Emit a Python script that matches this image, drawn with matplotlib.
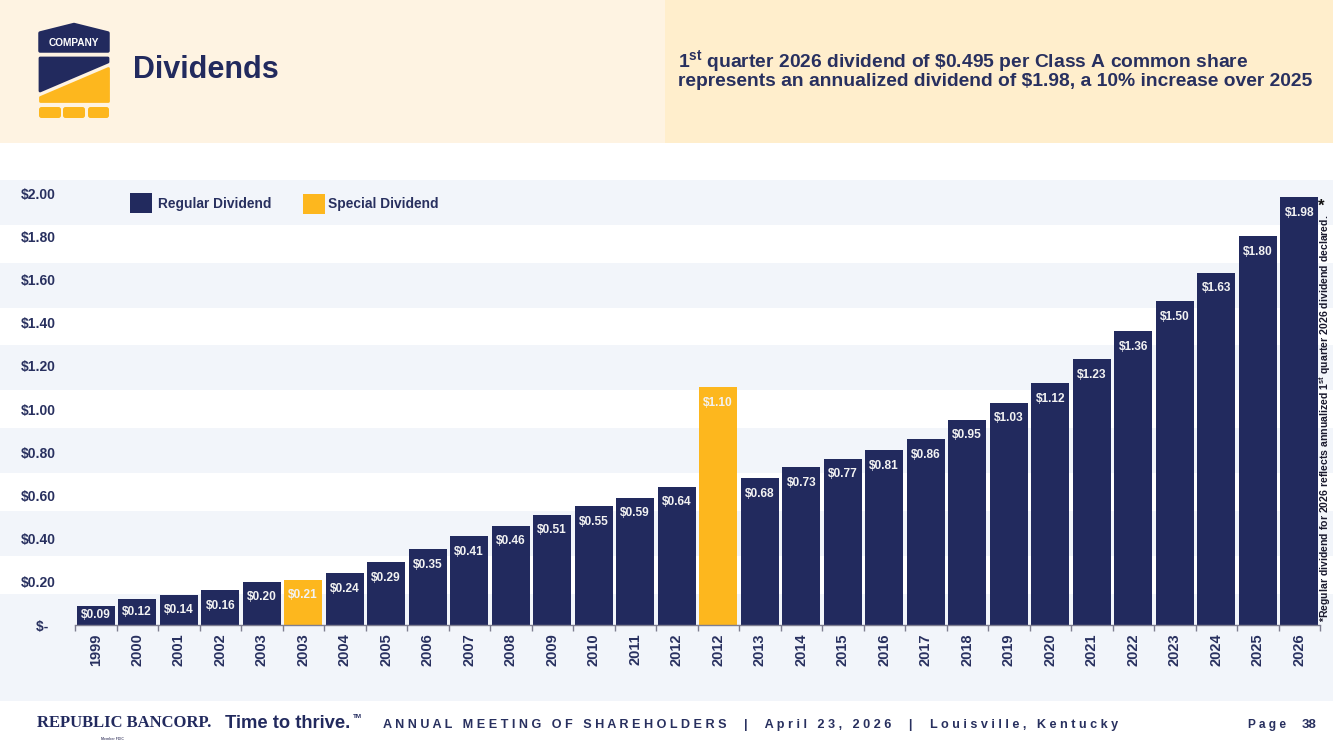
import matplotlib
matplotlib.use('Agg')
import matplotlib.pyplot as plt
from matplotlib.patches import Rectangle, Polygon, FancyBboxPatch
import numpy as np

# ---------------- data ----------------
years = ['1999', '2000', '2001', '2002', '2003', '2003', '2004', '2005', '2006', '2007',
         '2008', '2009', '2010', '2011', '2012', '2012', '2013', '2014', '2015', '2016',
         '2017', '2018', '2019', '2020', '2021', '2022', '2023', '2024', '2025', '2026']
dividends = [0.09, 0.12, 0.14, 0.16, 0.20, 0.21, 0.24, 0.29, 0.35, 0.41,
             0.46, 0.51, 0.55, 0.59, 0.64, 1.10, 0.68, 0.73, 0.77, 0.81,
             0.86, 0.95, 1.03, 1.12, 1.23, 1.36, 1.50, 1.63, 1.80, 1.98]
is_special = [False, False, False, False, False, True, False, False, False, False,
              False, False, False, False, False, True, False, False, False, False,
              False, False, False, False, False, False, False, False, False, False]
ytick_values = [0.0, 0.2, 0.4, 0.6, 0.8, 1.0, 1.2, 1.4, 1.6, 1.8, 2.0]
ytick_labels = ['$-  ', '$0.20', '$0.40', '$0.60', '$0.80', '$1.00', '$1.20',
                '$1.40', '$1.60', '$1.80', '$2.00']
legend_labels = ['Regular Dividend', 'Special Dividend']

NAVY = '#222A5E'
GOLD = '#FDB71E'
TEXT = '#28305F'
BAND = '#F2F5FA'

plt.rcParams['font.family'] = ['Liberation Sans', 'DejaVu Sans']
plt.rcParams['font.weight'] = 'bold'
plt.rcParams['mathtext.fontset'] = 'custom'
plt.rcParams['mathtext.rm'] = 'Liberation Sans:bold'
plt.rcParams['mathtext.default'] = 'regular'

W, H = 1333, 749
fig = plt.figure(figsize=(W / 100, H / 100), dpi=100)
fig.patch.set_facecolor('white')

# ---------------- background (pixel coords) ----------------
bg = fig.add_axes([0, 0, 1, 1], zorder=0)
bg.set_xlim(0, W)
bg.set_ylim(H, 0)
bg.axis('off')

bg.add_patch(Rectangle((0, 0), 665, 143, color='#FEF3E2', lw=0))
bg.add_patch(Rectangle((665, 0), W - 665, 143, color='#FFEECC', lw=0))
for top in [180, 263, 345, 428, 511]:
    bg.add_patch(Rectangle((0, top), W, 45, color=BAND, lw=0))
bg.add_patch(Rectangle((0, 594), W, 107, color=BAND, lw=0))

# logo
bg.add_patch(Polygon([(40, 51), (40, 33), (74, 24.5), (108, 33), (108, 51)],
                     closed=True, fc=NAVY, ec=NAVY, lw=2.5, joinstyle='round'))
bg.text(74, 43.5, 'COMPANY', color='white', fontsize=7.3, ha='center', va='center')
bg.add_patch(Polygon([(40, 58), (108, 58), (108, 62), (40, 91)],
                     closed=True, fc=NAVY, ec=NAVY, lw=2, joinstyle='round'))
bg.add_patch(Polygon([(108, 68), (108, 101), (40, 101), (40, 97)],
                     closed=True, fc=GOLD, ec=GOLD, lw=2, joinstyle='round'))
for x0, x1 in [(39, 61), (63, 85), (88, 109)]:
    bg.add_patch(FancyBboxPatch((x0, 107), x1 - x0, 11,
                                boxstyle='round,pad=0,rounding_size=2.5', fc=GOLD, ec='none'))

bg.text(133, 70, 'Dividends', color=NAVY, fontsize=22, ha='left', va='center')

bg.text(678, 61, r'1$^{\mathregular{st}}$ quarter 2026 dividend of \$0.495 per Class A common share',
        color=TEXT, fontsize=13.9, ha='left', va='center')
bg.text(678, 82, 'represents an annualized dividend of $1.98, a 10% increase over 2025',
        color=TEXT, fontsize=13.9, ha='left', va='center')

# legend
bg.add_patch(Rectangle((130, 193), 22, 20, color=NAVY, lw=0))
bg.text(158, 204, legend_labels[0], color=TEXT, fontsize=9.9, ha='left', va='center')
bg.add_patch(Rectangle((303, 194), 22, 20, color=GOLD, lw=0))
bg.text(328, 204, legend_labels[1], color=TEXT, fontsize=9.9, ha='left', va='center')

# side note
bg.text(1325, 418,
        r'*Regular dividend for 2026 reflects annualized 1$^{\mathregular{st}}$ quarter 2026 dividend declared.',
        color='#1A1A2E', fontsize=7.6, rotation=90, ha='center', va='center')
bg.text(1321, 206, '*', color='#111111', fontsize=12, ha='center', va='center')

# footer
bg.text(37, 723, 'REPUBLIC BANCORP.', color=NAVY, fontsize=12, ha='left', va='center',
        family=['Liberation Serif', 'DejaVu Serif'], weight='bold')
bg.text(225, 723, 'Time to thrive.', color=NAVY, fontsize=13.2, ha='left', va='center')
bg.text(353, 716, 'TM', color=NAVY, fontsize=4.5, ha='left', va='center')
bg.text(112, 739, 'Member FDIC', color='#555577', fontsize=2.5, ha='center', va='center')
footer = 'ANNUAL MEETING OF SHAREHOLDERS  |  April 23, 2026  |  Louisville, Kentucky'
bg.text(383, 725, ' '.join(footer), color=TEXT, fontsize=9.1, ha='left', va='center')
bg.text(1248, 725, ' '.join('Page') + '  ', color=TEXT, fontsize=8.6, ha='left', va='center')
bg.text(1316, 725, '38', color=TEXT, fontsize=9.5, ha='right', va='center')

# ---------------- chart ----------------
ax_left, ax_right, ax_bottom, ax_top = 75, 1320, 625, 180
ax = fig.add_axes([ax_left / W, (H - ax_bottom) / H, (ax_right - ax_left) / W,
                   (ax_bottom - ax_top) / H], zorder=2)
ax.set_facecolor('none')
n = len(dividends)
x = np.arange(n)
colors = [GOLD if s else NAVY for s in is_special]
ax.bar(x, dividends, width=0.91, color=colors, lw=0)
ax.set_xlim(-0.5, n - 0.5)
ytop = 2.0 * (ax_bottom - ax_top) / 432.0
ax.set_ylim(0, ytop)
px_per_unit = (ax_bottom - ax_top) / ytop

for xi, v in zip(x, dividends):
    off_px = min(15.5, v * px_per_unit / 2.0)
    ax.annotate(f'${v:.2f}', (xi, v), xytext=(0, -off_px * 0.72), textcoords='offset points',
                ha='center', va='center', color='#F2F2F2', fontsize=8.6)

for s in ['top', 'right', 'left']:
    ax.spines[s].set_visible(False)
ax.spines['bottom'].set_color('#7E7E90')
ax.spines['bottom'].set_linewidth(1.0)

ax.set_xticks(x)
ax.set_xticklabels(years, rotation=90, color=TEXT, fontsize=10.5)
ax.set_xticks(np.arange(-0.5, n, 1.0), minor=True)
ax.tick_params(axis='x', which='major', length=0, pad=6)
ax.tick_params(axis='x', which='minor', length=4, width=1, color='#7E7E90', direction='out')

ax.set_yticks(ytick_values)
ax.set_yticklabels(ytick_labels, color=TEXT, fontsize=10)
ax.tick_params(axis='y', length=0, pad=14)

fig.savefig('out.png', dpi=100, facecolor=fig.get_facecolor())
